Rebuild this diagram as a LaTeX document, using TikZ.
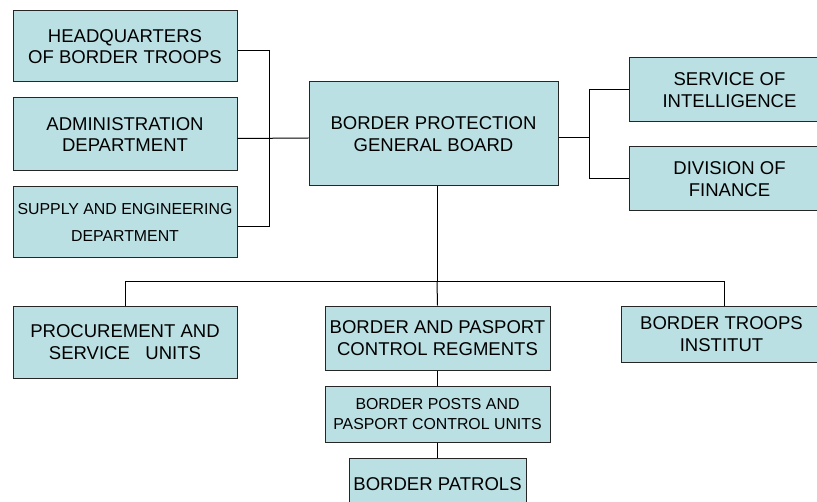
\documentclass[tikz,border=0pt]{standalone}
\usepackage{fontspec}
\setmainfont{Liberation Sans}
\usepackage{tikz}
\usetikzlibrary{positioning}
\definecolor{boxblue}{RGB}{187,224,227}

\begin{document}
\begin{tikzpicture}[x=0.75pt, y=-0.75pt,
    unit/.style={rectangle, draw=black!85, fill=boxblue, line width=0.75pt, inner sep=0pt, align=center, font=\fontsize{13.9}{16.3}\selectfont},
    small/.style={font=\fontsize{11.9}{15}\selectfont},
    link/.style={line width=0.75pt}]
    \useasboundingbox (0,0) rectangle (817,502);
    \clip (0,0) rectangle (817,502);

    % left column
    \node[unit, minimum width=168pt, minimum height=53.25pt] (hq) at (125,46.5) {HEADQUARTERS\\OF BORDER TROOPS};
    \node[unit, minimum width=168pt, minimum height=54.75pt] (admin) at (125,134.5) {ADMINISTRATION\\DEPARTMENT};
    \node[unit, minimum width=168pt, minimum height=53.25pt, small, font=\fontsize{11.9}{20}\selectfont] (supply) at (125,222.5) {SUPPLY AND ENGINEERING\\DEPARTMENT};

    % board and right column
    \node[unit, minimum width=186.75pt, minimum height=78pt] (board) at (433.5,134) {BORDER PROTECTION\\GENERAL BOARD};
    \node[unit, minimum width=150.75pt, minimum height=48pt] (intel) at (729.5,90) {SERVICE OF\\INTELLIGENCE};
    \node[unit, minimum width=150.75pt, minimum height=48pt] (finance) at (729.5,179) {DIVISION OF\\FINANCE};

    % lower row
    \node[unit, minimum width=168pt, minimum height=54pt] (proc) at (125,342) {PROCUREMENT AND\\SERVICE\ \ \ UNITS};
    \node[unit, minimum width=168.75pt, minimum height=48pt, font=\fontsize{13.9}{16.5}\selectfont] (regm) at (437.5,338) {BORDER AND PASPORT\\CONTROL REGMENTS};
    \node[unit, minimum width=150.75pt, minimum height=42pt] (inst) at (721.5,334) {BORDER TROOPS\\INSTITUT};
    \node[unit, minimum width=168.75pt, minimum height=42pt, small] (posts) at (437.5,414) {BORDER POSTS AND\\PASPORT CONTROL UNITS};
    \node[unit, minimum width=132.75pt, minimum height=39.75pt] (patrols) at (437.5,484.5) {BORDER PATROLS};

    \coordinate (lspine) at (269,138);
    \coordinate (rspine) at (589,138);
    \coordinate (bus) at (437,282);

    % left bracket
    \draw[link] ([yshift=-3pt]hq.east) -| (lspine);
    \draw[link] ([yshift=-3pt]supply.east) -| (lspine);
    \draw[link] ([yshift=-3pt]admin.east) -- ([yshift=-3pt]board.west);
    % right bracket
    \draw[link] (intel.west) -| (rspine);
    \draw[link] (finance.west) -| (rspine);
    \draw[link] ([yshift=-3pt]board.east) -- (rspine);
    % down to the lower row
    \draw[link] (bus |- board.south) -- (bus);
    \draw[link] (proc.north) |- (bus);
    \draw[link] (bus) -| ([xshift=2.6pt]inst.north);
    \draw[link] (bus) -- (regm.north);
    \draw[link] (regm.south) -- (posts.north);
    \draw[link] (posts.south) -- (patrols.north);

\end{tikzpicture}
\end{document}
